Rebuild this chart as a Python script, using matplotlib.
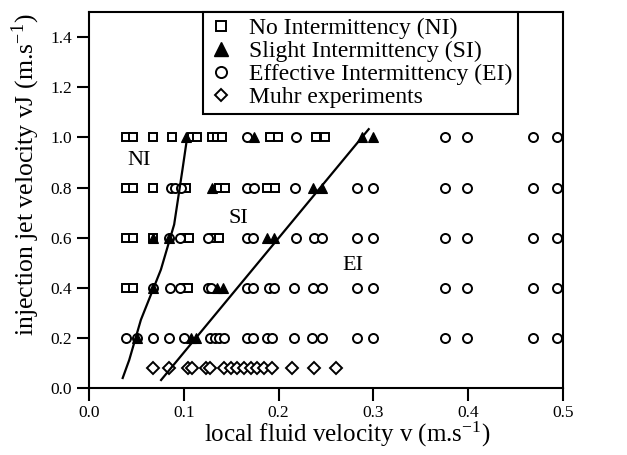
import matplotlib
matplotlib.use("Agg")
import matplotlib.pyplot as plt
from matplotlib.lines import Line2D

plt.rcParams['font.family'] = ['Liberation Serif', 'DejaVu Serif']
plt.rcParams['mathtext.fontset'] = 'stix'

# ---- data (v in m/s, vj in m/s) ----
ni_rows = {
    1.0: [0.039, 0.046, 0.067, 0.087, 0.109, 0.114, 0.130, 0.135, 0.140, 0.191, 0.199, 0.239, 0.249],
    0.8: [0.039, 0.046, 0.068, 0.102, 0.137, 0.143, 0.188, 0.196],
    0.6: [0.039, 0.046, 0.067, 0.101, 0.105, 0.132, 0.137],
    0.4: [0.039, 0.046, 0.100, 0.104],
}
si_rows = {
    1.0: [0.102, 0.174, 0.288, 0.300],
    0.8: [0.130, 0.236, 0.246],
    0.6: [0.067, 0.0845, 0.188, 0.195],
    0.4: [0.067, 0.135, 0.141],
    0.2: [0.051, 0.108, 0.113],
}
ei_far = [0.376, 0.399, 0.468, 0.494]
ei_rows = {
    1.0: [0.167, 0.218] + ei_far,
    0.8: [0.086, 0.091, 0.097, 0.167, 0.174, 0.217, 0.283, 0.300] + ei_far,
    0.6: [0.0845, 0.096, 0.1255, 0.167, 0.173, 0.218, 0.237, 0.246, 0.283, 0.300] + ei_far,
    0.4: [0.067, 0.085, 0.0955, 0.125, 0.129, 0.167, 0.173, 0.190, 0.195, 0.216,
          0.236, 0.246, 0.283, 0.300] + ei_far,
    0.2: [0.039, 0.051, 0.068, 0.0845, 0.100, 0.128, 0.133, 0.137, 0.142, 0.167, 0.173,
          0.188, 0.193, 0.216, 0.235, 0.246, 0.283, 0.300] + ei_far,
}
muhr_vj = 0.08
muhr_v = [0.067, 0.0845, 0.104, 0.109, 0.123, 0.128, 0.1425, 0.1495, 0.1565, 0.1635,
          0.1705, 0.1775, 0.1845, 0.193, 0.2144, 0.237, 0.26]

# regime boundaries
b1_v = [0.0355, 0.0424, 0.0547, 0.0758, 0.0898, 0.0986, 0.104]
b1_vj = [0.041, 0.113, 0.273, 0.473, 0.653, 0.873, 1.013]
b2_v = [0.076, 0.295]
b2_vj = [0.033, 1.033]

x_ticks = [0.0, 0.1, 0.2, 0.3, 0.4, 0.5]
y_ticks = [0.0, 0.2, 0.4, 0.6, 0.8, 1.0, 1.2, 1.4]

def flatten(rows):
    xs, ys = [], []
    for vj, vs in rows.items():
        xs += vs
        ys += [vj] * len(vs)
    return xs, ys

fig = plt.figure(figsize=(6.27, 4.55), dpi=100)
ax = fig.add_axes([0.142, 0.1466, 0.756, 0.827])

mew = 1.4
x, y = flatten(ni_rows)
ax.plot(x, y, ls='none', marker='s', ms=6.3, mfc='white', mec='black', mew=mew, zorder=3)
x, y = flatten(ei_rows)
ax.plot(x, y, ls='none', marker='o', ms=6.5, mfc='white', mec='black', mew=mew, zorder=3)
x, y = flatten(si_rows)
ax.plot(x, y, ls='none', marker='^', ms=7.5, mfc='black', mec='black', mew=0.8, zorder=4)
ax.plot(muhr_v, [muhr_vj] * len(muhr_v), ls='none', marker='D', ms=5.8, mfc='white',
        mec='black', mew=mew, zorder=3)

ax.plot(b1_v, b1_vj, color='black', lw=1.6, zorder=5)
ax.plot(b2_v, b2_vj, color='black', lw=1.6, zorder=5)

ax.text(0.0526, 0.909, 'NI', fontsize=16, ha='center', va='center')
ax.text(0.158, 0.678, 'SI', fontsize=16, ha='center', va='center')
ax.text(0.278, 0.489, 'EI', fontsize=16, ha='center', va='center')

ax.set_xlim(0, 0.5)
ax.set_ylim(0, 1.5)
ax.set_xticks(x_ticks)
ax.set_xticklabels([f'{t:.1f}' for t in x_ticks])
ax.set_yticks(y_ticks)
ax.set_yticklabels([f'{t:.1f}' for t in y_ticks])
ax.tick_params(direction='out', length=9, width=1.5, labelsize=12.5, pad=3)
for s in ax.spines.values():
    s.set_linewidth(1.5)

ax.set_xlabel(r'local fluid velocity v (m.s$^{\mathregular{-1}}$)', fontsize=18)
ax.set_ylabel(r'injection jet velocity vJ (m.s$^{\mathregular{-1}}$)', fontsize=18.5)
ax.xaxis.set_label_coords(0.546, -0.123)
ax.xaxis.label.set_va('center')
ax.yaxis.set_label_coords(-0.133, 0.567)
ax.yaxis.label.set_va('center')

handles = [
    Line2D([], [], ls='none', marker='s', ms=7.5, mfc='white', mec='black', mew=mew),
    Line2D([], [], ls='none', marker='^', ms=10, mfc='black', mec='black'),
    Line2D([], [], ls='none', marker='o', ms=8, mfc='white', mec='black', mew=mew),
    Line2D([], [], ls='none', marker='D', ms=6, mfc='white', mec='black', mew=mew),
]
labels = ['No Intermittency (NI)', 'Slight Intermittency (SI)',
          'Effective Intermittency (EI)', 'Muhr experiments']
leg = ax.legend(handles, labels, loc='upper left', bbox_to_anchor=(0.2405, 1.0),
                borderaxespad=0, fontsize=17, frameon=True, fancybox=False,
                edgecolor='black', handlelength=1.0, handletextpad=0.7,
                labelspacing=0.06, borderpad=0.25)
leg.get_frame().set_linewidth(1.5)
leg.get_frame().set_alpha(1)

fig.savefig('out.png', dpi=100)
